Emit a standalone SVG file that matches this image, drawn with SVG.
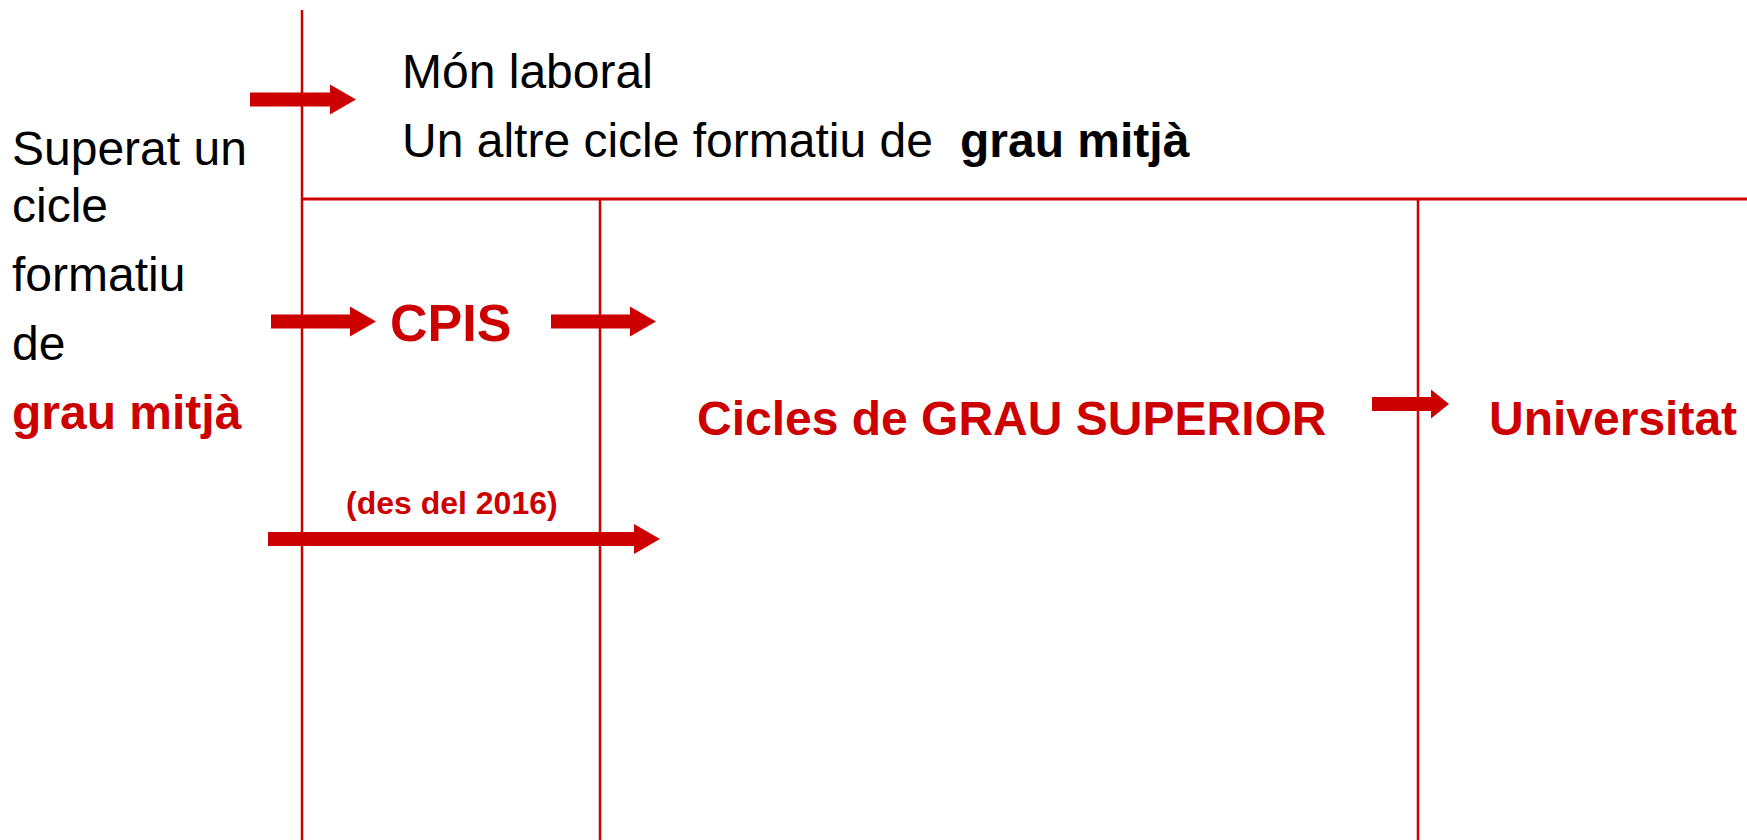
<svg xmlns="http://www.w3.org/2000/svg" width="1747" height="840" viewBox="0 0 1747 840">
<style>
  .t { font-family: "Liberation Sans", Arial, sans-serif; font-size: 48px; fill: #000; }
  .b { font-weight: bold; }
  .r { fill: #CC0000; }
  .big { font-size: 52px; }
  .small { font-size: 32px; }
  .ln { stroke: #CC0000; stroke-width: 2.5; fill: none; }
  .ar { fill: #CC0000; }
</style>
<rect width="1747" height="840" fill="#fff"/>
<g id="connectors">
  <line class="ln" x1="302" y1="10" x2="302" y2="840"/>
  <line class="ln" x1="302" y1="199" x2="1747" y2="199" style="stroke-width:3"/>
  <line class="ln" x1="600" y1="199" x2="600" y2="840"/>
  <line class="ln" x1="1418" y1="199" x2="1418" y2="840"/>
  <polygon class="ar" points="250,92.5 330,92.5 330,84.5 356,99.5 330,114.5 330,106.5 250,106.5"/>
  <polygon class="ar" points="271,314.5 350,314.5 350,306.5 376,321.5 350,336.5 350,328.5 271,328.5"/>
  <polygon class="ar" points="551,314.5 630,314.5 630,306.5 656,321.5 630,336.5 630,328.5 551,328.5"/>
  <polygon class="ar" points="268,532 634,532 634,524 660,539 634,554 634,546 268,546"/>
  <polygon class="ar" points="1372,397 1431,397 1431,389.5 1449,404 1431,418.5 1431,411 1372,411"/>
</g>
<g id="node-left">
  <text class="t" x="12" y="165">Superat un</text>
  <text class="t" x="12" y="222">cicle</text>
  <text class="t" x="12" y="291">formatiu</text>
  <text class="t" x="12" y="360">de</text>
  <text class="t b r" x="12" y="429">grau mitjà</text>
</g>
<g id="node-top">
  <text class="t" x="402" y="88">Món laboral</text>
  <text class="t" x="402" y="157">Un altre cicle formatiu de <tspan class="b" x="960">grau mitjà</tspan></text>
</g>
<g id="node-cpis">
  <text class="t b r big" x="390" y="341">CPIS</text>
</g>
<g id="node-des2016">
  <text class="t b r small" x="346" y="514">(des del 2016)</text>
</g>
<g id="node-grausup">
  <text class="t b r" x="697" y="435">Cicles de GRAU SUPERIOR</text>
</g>
<g id="node-univ">
  <text class="t b r" x="1489" y="435">Universitat</text>
</g>
</svg>
